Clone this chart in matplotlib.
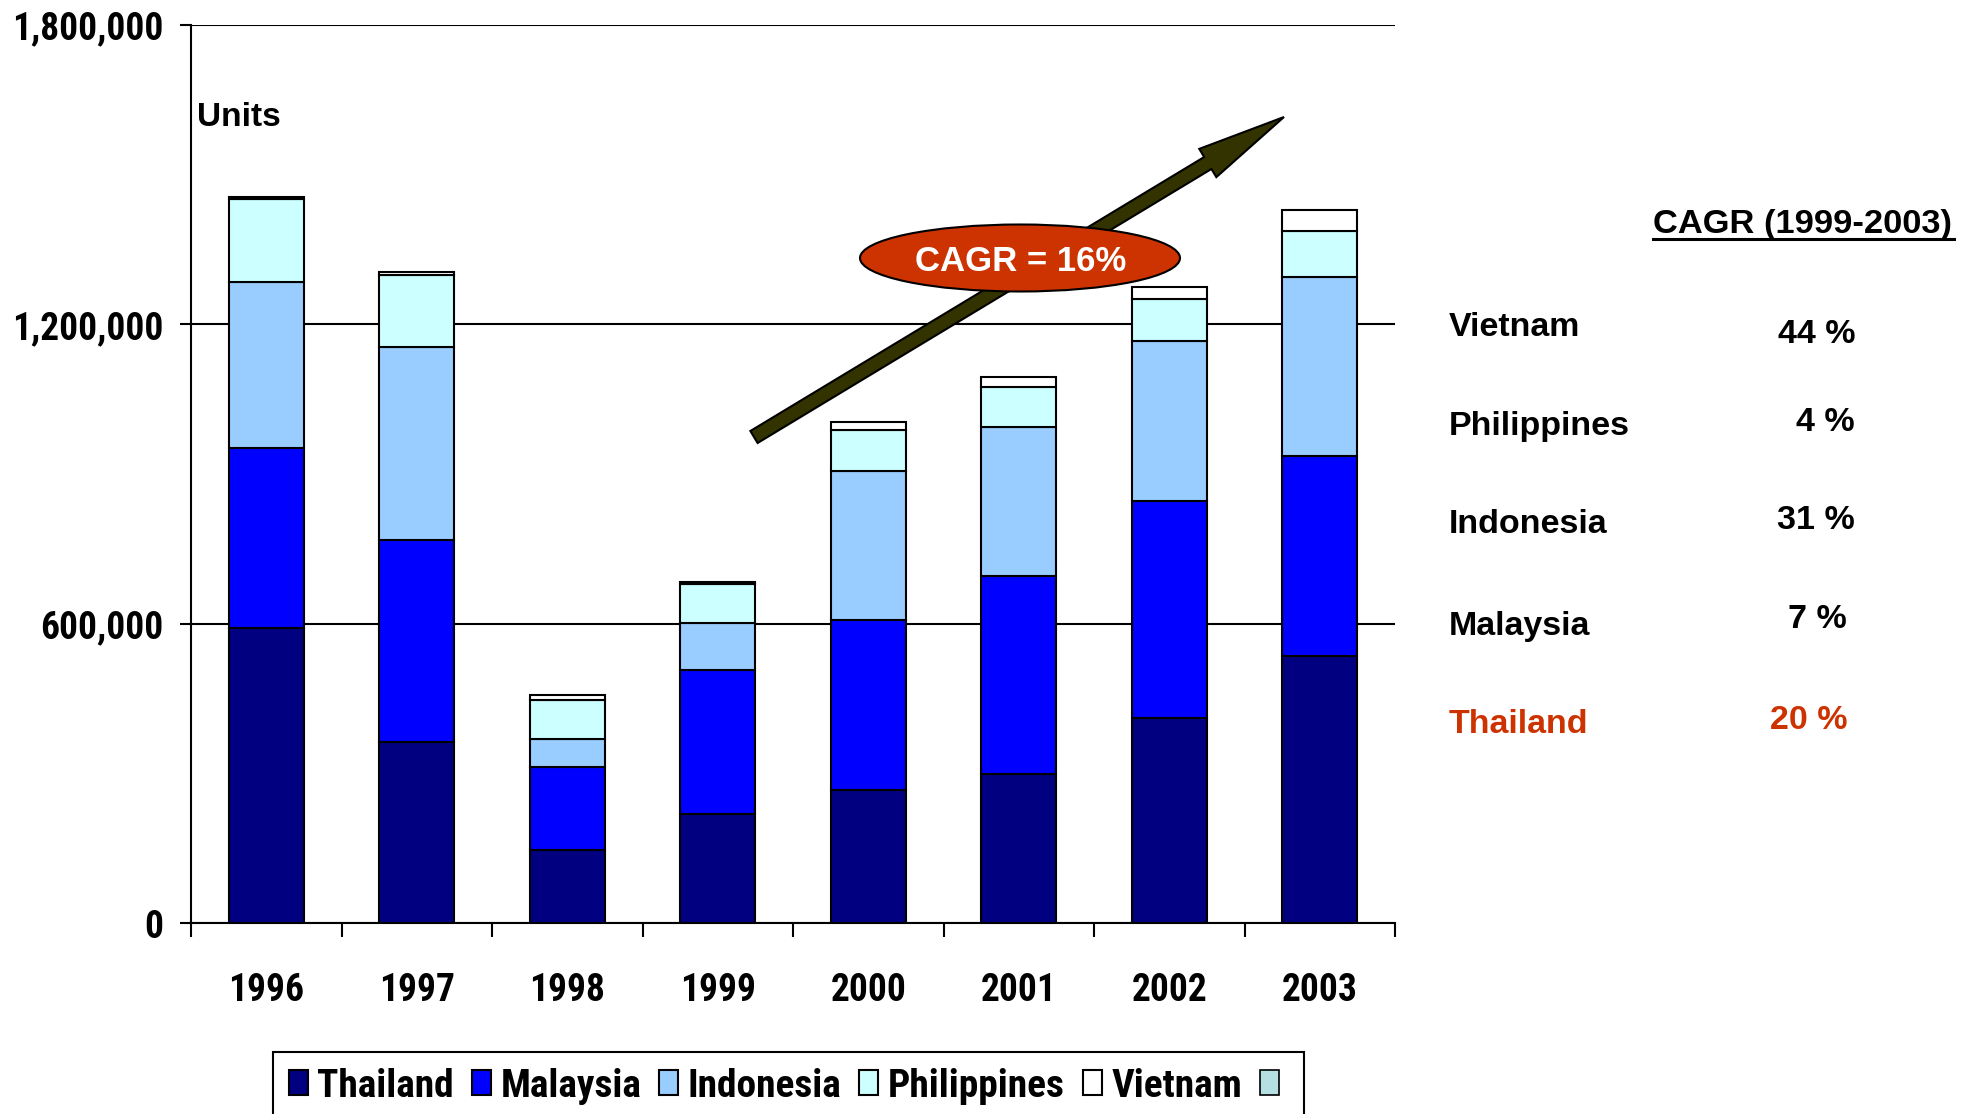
import numpy as np
import matplotlib
matplotlib.use("Agg")
import matplotlib.pyplot as plt
from matplotlib import font_manager
from matplotlib.patches import Ellipse, FancyArrow, Patch
from matplotlib.lines import Line2D
from matplotlib.ticker import FuncFormatter

# ---------------------------------------------------------------
# data (units sold per year, stacked by country)
# ---------------------------------------------------------------
years = ["1996", "1997", "1998", "1999", "2000", "2001", "2002", "2003"]
thailand = [591000, 363000, 146000, 219000, 267000, 298000, 411000, 535000]
malaysia = [362000, 404000, 166000, 289000, 340000, 398000, 434000, 402000]
indonesia = [332000, 387000, 57000, 93000, 300000, 299000, 321000, 358000]
philippines = [166000, 145000, 78000, 78000, 82000, 79000, 84000, 93000]
vietnam = [4000, 5000, 10000, 5000, 16000, 20000, 25000, 42000]

series_names = ["Thailand", "Malaysia", "Indonesia", "Philippines", "Vietnam"]
series_colors = ["#000080", "#0000FF", "#99CCFF", "#CCFFFF", "#FFFFFF"]
extra_legend_color = "#B4E0E4"

yticks = [0, 600000, 1200000, 1800000]

cagr_title = "CAGR (1999-2003)"
cagr_names = ["Vietnam", "Philippines", "Indonesia", "Malaysia", "Thailand"]
cagr_values = ["44 %", "4 %", "31 %", "7 %", "20 %"]
cagr_label = "CAGR = 16%"

ARIAL = ["Liberation Sans", "DejaVu Sans"]
RED = "#CC3300"


def pick_narrow():
    # chart text in the original is a narrow bold face; use one if present
    for fam, size in [("Liberation Sans Narrow", 28), ("Roboto Condensed", 27),
                      ("DejaVu Sans Condensed", 24)]:
        try:
            font_manager.findfont(font_manager.FontProperties(family=fam, weight="bold"),
                                  fallback_to_default=False)
            return [fam, "DejaVu Sans"], size
        except ValueError:
            pass
    return ARIAL, 24


NARROW, NSIZE = pick_narrow()
LSIZE = NSIZE * 1.05  # legend text is a touch larger

W, H = 1961, 1114


def fx(x):
    return x / W


def fy(y):
    return 1 - y / H


fig = plt.figure(figsize=(W / 100, H / 100), dpi=100)
ax = fig.add_axes([fx(191), fy(923), fx(1395) - fx(191), fy(25) - fy(923)])

# =====================
# STACKED BARS
# =====================
x = np.arange(len(years))
bottom = np.zeros(len(years))
handles = []
for name, vals, col in zip(series_names,
                           [thailand, malaysia, indonesia, philippines, vietnam],
                           series_colors):
    b = ax.bar(x, vals, width=0.5, bottom=bottom, color=col,
               edgecolor="black", linewidth=1.5, label=name, zorder=3)
    handles.append(b)
    bottom += np.array(vals)

ax.set_xlim(-0.5, len(years) - 0.5)
ax.set_ylim(0, 1800000)

# axes styling
for s in ["top", "right"]:
    ax.spines[s].set_visible(False)
ax.spines["left"].set_linewidth(1.5)
ax.spines["bottom"].set_linewidth(1.5)
ax.yaxis.grid(True, color="black", linewidth=1.5)
ax.set_axisbelow(True)

ax.set_yticks(yticks)
ax.yaxis.set_major_formatter(FuncFormatter(lambda v, p: f"{int(v):,}"))
ax.tick_params(axis="y", length=8, width=1.5, pad=12)
for lab in ax.get_yticklabels():
    lab.set_fontfamily(NARROW)
    lab.set_fontweight("bold")
    lab.set_fontsize(NSIZE)

ax.set_xticks(x)
ax.set_xticklabels(years, fontfamily=NARROW, fontweight="bold", fontsize=NSIZE)
ax.set_xticks(np.arange(-0.5, len(years), 1), minor=True)
ax.tick_params(axis="x", which="major", length=0, pad=35)
ax.tick_params(axis="x", which="minor", length=10, width=1.5)

# "Units" label
fig.text(fx(197), fy(126), "Units", fontfamily=ARIAL, fontweight="bold",
         fontsize=24, va="baseline", ha="left")

# =====================
# LEGEND
# =====================
leg_handles = handles + [Patch(facecolor=extra_legend_color, edgecolor="black",
                               linewidth=1.2)]
leg_labels = series_names + [""]
leg = fig.legend(leg_handles, leg_labels, ncol=6, loc="upper left",
                 bbox_to_anchor=(fx(273), fy(1052)), borderaxespad=0,
                 prop={"family": NARROW, "weight": "bold", "size": LSIZE},
                 handlelength=0.48, handleheight=0.6, handletextpad=0.25,
                 columnspacing=0.45, borderpad=0.4, fancybox=False,
                 framealpha=1, edgecolor="black")
leg.get_frame().set_linewidth(1.5)

# =====================
# TREND ARROW + CAGR BUBBLE
# =====================
tail = (754 / 100, (H - 437) / 100)
tip = (1284 / 100, (H - 117) / 100)
arrow = FancyArrow(tail[0], tail[1], tip[0] - tail[0], tip[1] - tail[1],
                   width=0.14, head_width=0.33, head_length=0.89,
                   length_includes_head=True, facecolor="#333300",
                   edgecolor="black", linewidth=1.5,
                   transform=fig.dpi_scale_trans, zorder=5)
fig.add_artist(arrow)

bubble = Ellipse((1020 / 100, (H - 258) / 100), 3.20, 0.67,
                 facecolor=RED, edgecolor="black", linewidth=1.5,
                 transform=fig.dpi_scale_trans, zorder=6)
fig.add_artist(bubble)
fig.text(fx(1021), fy(271), cagr_label, color="white", fontfamily=ARIAL,
         fontweight="bold", fontsize=25, ha="center", va="baseline", zorder=7)

# =====================
# CAGR TABLE (right side)
# =====================
fig.text(fx(1653), fy(233), cagr_title, fontfamily=ARIAL, fontweight="bold",
         fontsize=24.8, ha="left", va="baseline")
fig.add_artist(Line2D([fx(1653), fx(1954)], [fy(239), fy(239)],
                      color="black", linewidth=2.2))

name_base = [336, 435, 533, 635, 733]
val_base = [343, 431, 529, 628, 729]
val_right = [1855, 1855, 1855, 1847, 1847]
for i, (nm, v) in enumerate(zip(cagr_names, cagr_values)):
    col = RED if nm == "Thailand" else "black"
    fig.text(fx(1449), fy(name_base[i]), nm, color=col, fontfamily=ARIAL,
             fontweight="bold", fontsize=24.5, ha="left", va="baseline")
    fig.text(fx(val_right[i]), fy(val_base[i]), v, color=col, fontfamily=ARIAL,
             fontweight="bold", fontsize=24.5, ha="right", va="baseline")

fig.savefig("out.png", dpi=100)
